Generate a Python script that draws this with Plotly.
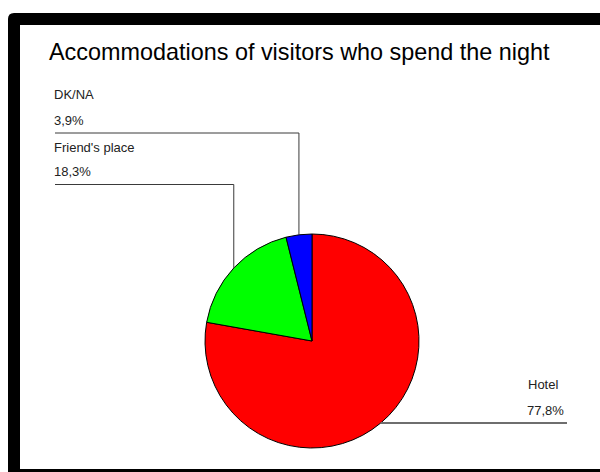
import math
import plotly.graph_objects as go

# Survey result: where overnight visitors stayed
labels = ["Hotel", "Friend's place", "DK/NA"]
values = [77.8, 18.3, 3.9]
colors = ["#ff0000", "#00ff00", "#0000ff"]
title_text = "Accommodations of visitors who spend the night"

W, H = 600, 472
CX, CY, R = 312, 341, 107  # pie centre and radius in pixels


def px(x):
    return x / W


def py(y):
    return 1 - y / H


def fmt_pct(v):
    return f"{v:.1f}".replace(".", ",") + "%"


def edge_point(i):
    """Point on the rim at the middle angle of slice i (clockwise from 12 o'clock)."""
    total = sum(values)
    start = sum(values[:i]) / total * 360
    mid = math.radians(start + values[i] / total * 180)
    return CX + R * math.sin(mid), CY - R * math.cos(mid)


fig = go.Figure(
    go.Pie(
        labels=labels,
        values=values,
        sort=False,
        direction="clockwise",
        rotation=0,
        marker=dict(colors=colors, line=dict(color="#000000", width=1)),
        textinfo="none",
        hoverinfo="none",
        showlegend=False,
        domain=dict(x=[px(CX - R), px(CX + R)], y=[py(CY + R), py(CY - R)]),
    )
)

shapes = []

# Black frame with a rounded top-left corner
r = 6
L, T, Rr, B = 8, 13, 620, 490
frame = (
    f"M {px(L)},{py(T + r)} Q {px(L)},{py(T)} {px(L + r)},{py(T)} "
    f"L {px(Rr)},{py(T)} L {px(Rr)},{py(B)} L {px(L)},{py(B)} Z"
)
shapes.append(dict(type="path", xref="paper", yref="paper", path=frame,
                   fillcolor="#000000", line=dict(width=0), layer="below"))
shapes.append(dict(type="rect", xref="paper", yref="paper",
                   x0=px(20), x1=px(Rr), y0=py(469), y1=py(25),
                   fillcolor="#ffffff", line=dict(width=0), layer="below"))

line_style = dict(color="#3a3a3a", width=1)
text_font = dict(family="Arial, Liberation Sans, sans-serif", size=13, color="#222222")

annotations = [
    dict(text=title_text, x=px(47), y=py(52), xref="paper", yref="paper",
         xanchor="left", yanchor="middle", showarrow=False,
         font=dict(family="Arial, Liberation Sans, sans-serif", size=23.4, color="#000000")),
]

# Left-side labels (DK/NA above Friend's place), each with an elbow leader line
left_layout = {2: (94.5, 121, 133), 1: (147.5, 172, 184.5)}
for i, (y_name, y_pct, y_line) in left_layout.items():
    ex, ey = edge_point(i)
    shapes.append(dict(type="path", xref="paper", yref="paper", layer="above",
                       path=f"M {px(55)},{py(y_line)} L {px(ex)},{py(y_line)} L {px(ex)},{py(ey)}",
                       line=line_style))
    annotations.append(dict(text=labels[i], x=px(52), y=py(y_name), xref="paper", yref="paper",
                            xanchor="left", yanchor="middle", showarrow=False, font=text_font))
    annotations.append(dict(text=fmt_pct(values[i]), x=px(52), y=py(y_pct), xref="paper", yref="paper",
                            xanchor="left", yanchor="middle", showarrow=False, font=text_font))

# Right-side label for Hotel
ex, ey = edge_point(0)
shapes.append(dict(type="line", xref="paper", yref="paper", layer="above",
                   x0=px(ex), y0=py(ey), x1=px(567), y1=py(ey),
                   line=dict(color="#6e6e6e", width=2)))
annotations.append(dict(text=labels[0], x=px(526), y=py(384), xref="paper", yref="paper",
                        xanchor="left", yanchor="middle", showarrow=False, font=text_font))
annotations.append(dict(text=fmt_pct(values[0]), x=px(525), y=py(410), xref="paper", yref="paper",
                        xanchor="left", yanchor="middle", showarrow=False, font=text_font))

fig.update_layout(
    width=W,
    height=H,
    margin=dict(l=0, r=0, t=0, b=0),
    paper_bgcolor="#ffffff",
    plot_bgcolor="#ffffff",
    shapes=shapes,
    annotations=annotations,
)

fig.write_html("out.html", config={"displayModeBar": False})
